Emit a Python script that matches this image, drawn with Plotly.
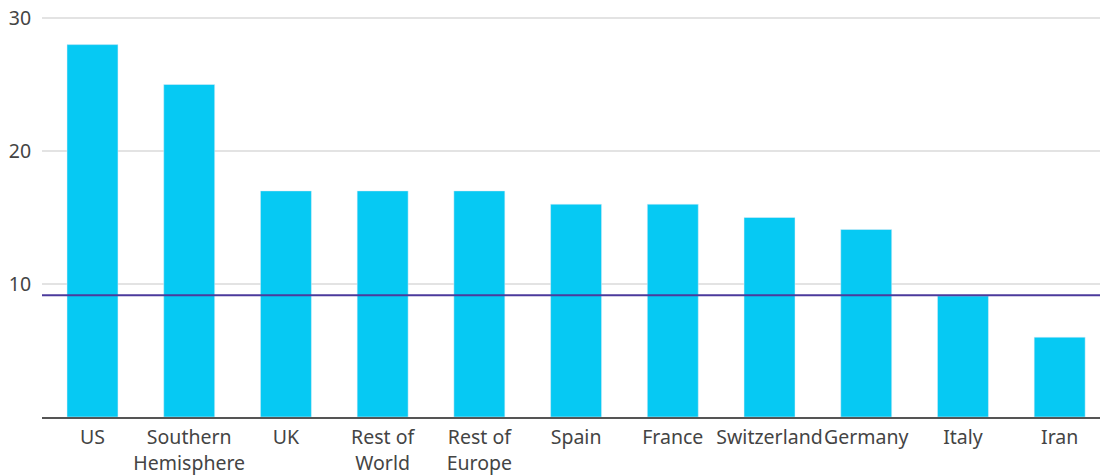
import plotly.graph_objects as go

categories = ["US", "Southern<br>Hemisphere", "UK", "Rest of<br>World", "Rest of<br>Europe",
              "Spain", "France", "Switzerland", "Germany", "Italy", "Iran"]
values = [28, 25, 17, 17, 17, 16, 16, 15, 14.1, 9.1, 6]
average = 9.15
y_ticks = [10, 20, 30]

x_pos = list(range(len(categories)))

fig = go.Figure()
fig.add_trace(go.Bar(x=x_pos, y=values, marker_color="#06C9F3", width=0.527,
                     hoverinfo="skip"))
fig.add_hline(y=average, line_color="#4B3A9C", line_width=2)

fig.update_layout(
    width=1100, height=476,
    margin=dict(l=42, r=0, t=16, b=59),
    plot_bgcolor="white", paper_bgcolor="white",
    font=dict(family="Noto Sans", size=19.5, color="#444444"),
    showlegend=False,
    xaxis=dict(range=[-0.522, 10.417], tickvals=x_pos, ticktext=categories,
               tickangle=0, automargin=False,
               showgrid=False, showline=True, linecolor="#555555", linewidth=1.5,
               ticks="outside", ticklen=2, tickcolor="rgba(0,0,0,0)", zeroline=False),
    yaxis=dict(range=[0, 30.15], tickvals=y_ticks, showgrid=True, gridcolor="#E3E3E3",
               gridwidth=1.5, zeroline=False, showline=False, automargin=False,
               ticklabeloverflow="allow",
               ticks="outside", ticklen=6, tickcolor="rgba(0,0,0,0)"),
)

fig.write_html("out.html", config={"displayModeBar": False},
               post_script="document.body.style.margin='0';")
